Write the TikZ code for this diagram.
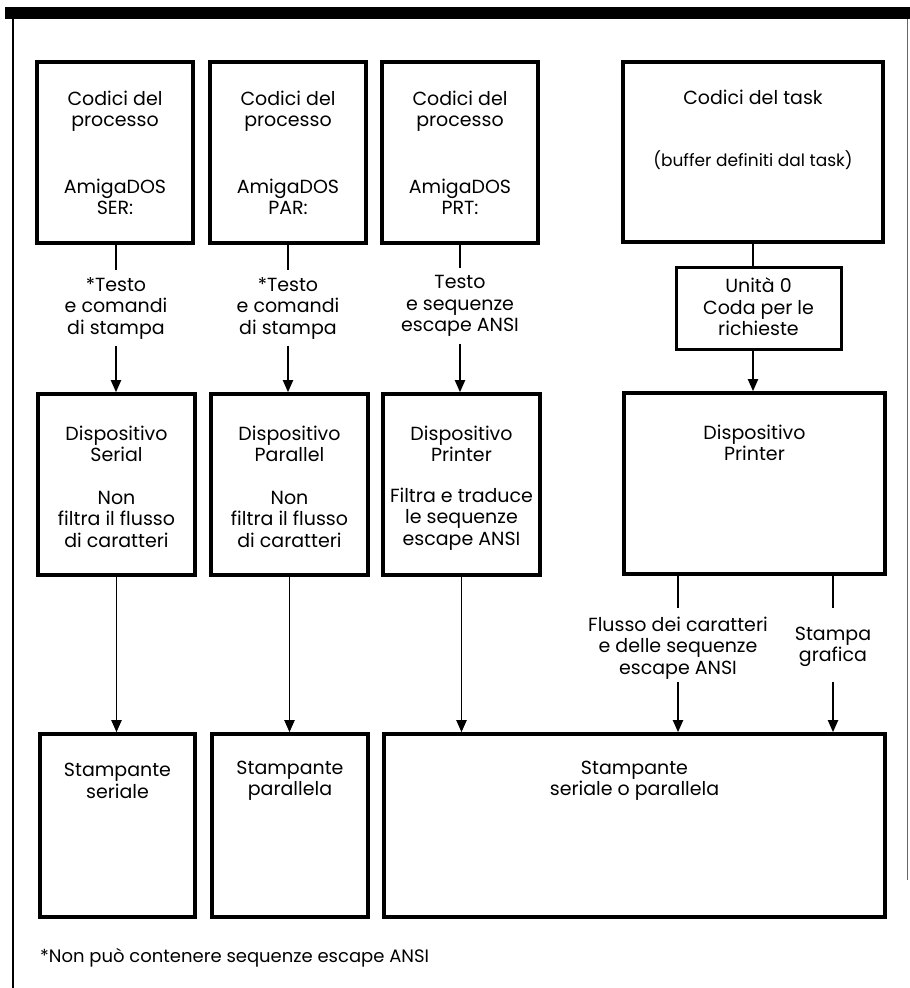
\documentclass[tikz,border=0pt]{standalone}
\usepackage{fontspec}
\setmainfont{Poppins}
\usetikzlibrary{arrows.meta}
\begin{document}
\begin{tikzpicture}[x=1pt,y=-1pt,
  box/.style={draw, line width=3.6pt, inner sep=0pt},
  conn/.style={line width=1.9pt},
  arr/.style={conn, -{Triangle[width=10pt,length=12pt]}},
  txt/.style={align=center, inner sep=0pt, font=\fontsize{19}{21.5}\selectfont},
  lbl/.style={txt, minimum height=75pt},
  frame/.style={line width=1.5pt}]
\useasboundingbox (0,0) rectangle (910,988);
% frame
\fill (5,7) rectangle (910,19);
\draw[frame] (13,19) -- (13,988);
\draw[line width=1pt, black!60] (907,19) -- (907,880);
% row 1
\node[box, minimum width=156pt, minimum height=181pt] (a1) at (115,152.5) {};
\node[box, minimum width=156pt, minimum height=181pt] (a2) at (288,152.5) {};
\node[box, minimum width=156pt, minimum height=181pt] (a3) at (460,152.5) {};
\node[box, minimum width=260pt, minimum height=180pt] (a4) at (753,152) {};
\node[txt] (a1t) at (115,111) {Codici del\\processo};
\node[txt] (a1s) at (115,197) {AmigaDOS\\SER:};
\node[txt] (a2t) at (288,111) {Codici del\\processo};
\node[txt] (a2s) at (288,197) {AmigaDOS\\PAR:};
\node[txt] (a3t) at (460,111) {Codici del\\processo};
\node[txt] (a3s) at (460,197) {AmigaDOS\\PRT:};
\node[txt] (a4t) at (753,97) {Codici del task};
\node[txt, font=\fontsize{17}{19}\selectfont] (a4s) at (753,160) {(buffer definiti dal task)};
% unit box
\node[box, line width=3pt, minimum width=165pt, minimum height=82pt] (u) at (758.5,308) {};
\node[txt] (ut) at (758.5,307) {Unità 0\\Coda per le\\richieste};
% row 2
\node[box, minimum width=157pt, minimum height=181pt] (b1) at (116.5,484.5) {};
\node[box, minimum width=157pt, minimum height=181pt] (b2) at (289.5,484.5) {};
\node[box, minimum width=157pt, minimum height=181pt] (b3) at (461.5,484.5) {};
\node[box, minimum width=261pt, minimum height=181pt] (b4) at (754.5,483.5) {};
\node[txt] (b1t) at (116.5,444) {Dispositivo\\Serial};
\node[txt] (b1s) at (116.5,519) {Non\\filtra il flusso\\di caratteri};
\node[txt] (b2t) at (289.5,444) {Dispositivo\\Parallel};
\node[txt] (b2s) at (289.5,519) {Non\\filtra il flusso\\di caratteri};
\node[txt] (b3t) at (461.5,444) {Dispositivo\\Printer};
\node[txt] (b3s) at (461.5,519) {Filtra e traduce\\le sequenze\\escape ANSI};
\node[txt] (b4t) at (754.5,443) {Dispositivo\\Printer};
% row 3
\node[box, minimum width=155pt, minimum height=183pt] (c1) at (117.5,825.5) {};
\node[box, minimum width=156pt, minimum height=183pt] (c2) at (290,825.5) {};
\node[box, minimum width=501pt, minimum height=183pt] (c3) at (634.5,825.5) {};
\node[txt] (c1t) at (117.5,781) {Stampante\\seriale};
\node[txt] (c2t) at (290,781) {Stampante\\parallela};
\node[txt] (c3t) at (634.5,781) {Stampante\\seriale o parallela};
% labels between row 1 and 2
\node[lbl] (l1) at (116,308) {*Testo\\e comandi\\di stampa};
\node[lbl] (l2) at (288,308) {*Testo\\e comandi\\di stampa};
\node[lbl] (l3) at (460,306) {Testo\\e sequenze\\escape ANSI};
% labels between row 2 and 3
\node[txt] (lf) at (678,648) {Flusso dei caratteri\\e delle sequenze\\escape ANSI};
\node[txt] (lg) at (833,647) {Stampa\\grafica};
\coordinate (lfa) at (678,608);
\coordinate (lfb) at (678,682);
\coordinate (lga) at (833,608);
\coordinate (lgb) at (833,682);
% connectors
\draw[conn] (l1.north |- a1.south) -- (l1.north);
\draw[arr] (l1.south) -- (l1.south |- b1.north);
\draw[conn] (l2.north |- a2.south) -- (l2.north);
\draw[arr] (l2.south) -- (l2.south |- b2.north);
\draw[conn] (l3.north |- a3.south) -- (l3.north);
\draw[arr] (l3.south) -- (l3.south |- b3.north);
\draw[conn] (a4.south) -- (a4.south |- u.north);
\draw[arr] (a4.south |- u.south) -- (a4.south |- b4.north);
\draw[arr] (b1.south) -- (b1.south |- c1.north);
\draw[arr] (b2.south) -- (b2.south |- c2.north);
\draw[arr] (b3.south) -- (b3.south |- c3.north);
\draw[conn] (lfa |- b4.south) -- (lfa);
\draw[arr] (lfb) -- (lfb |- c3.north);
\draw[conn] (lga |- b4.south) -- (lga);
\draw[arr] (lgb) -- (lgb |- c3.north);
% footnote
\node[txt, anchor=west, font=\fontsize{18}{21}\selectfont] (fn) at (40,958) {*Non può contenere sequenze escape ANSI};
\end{tikzpicture}
\end{document}
